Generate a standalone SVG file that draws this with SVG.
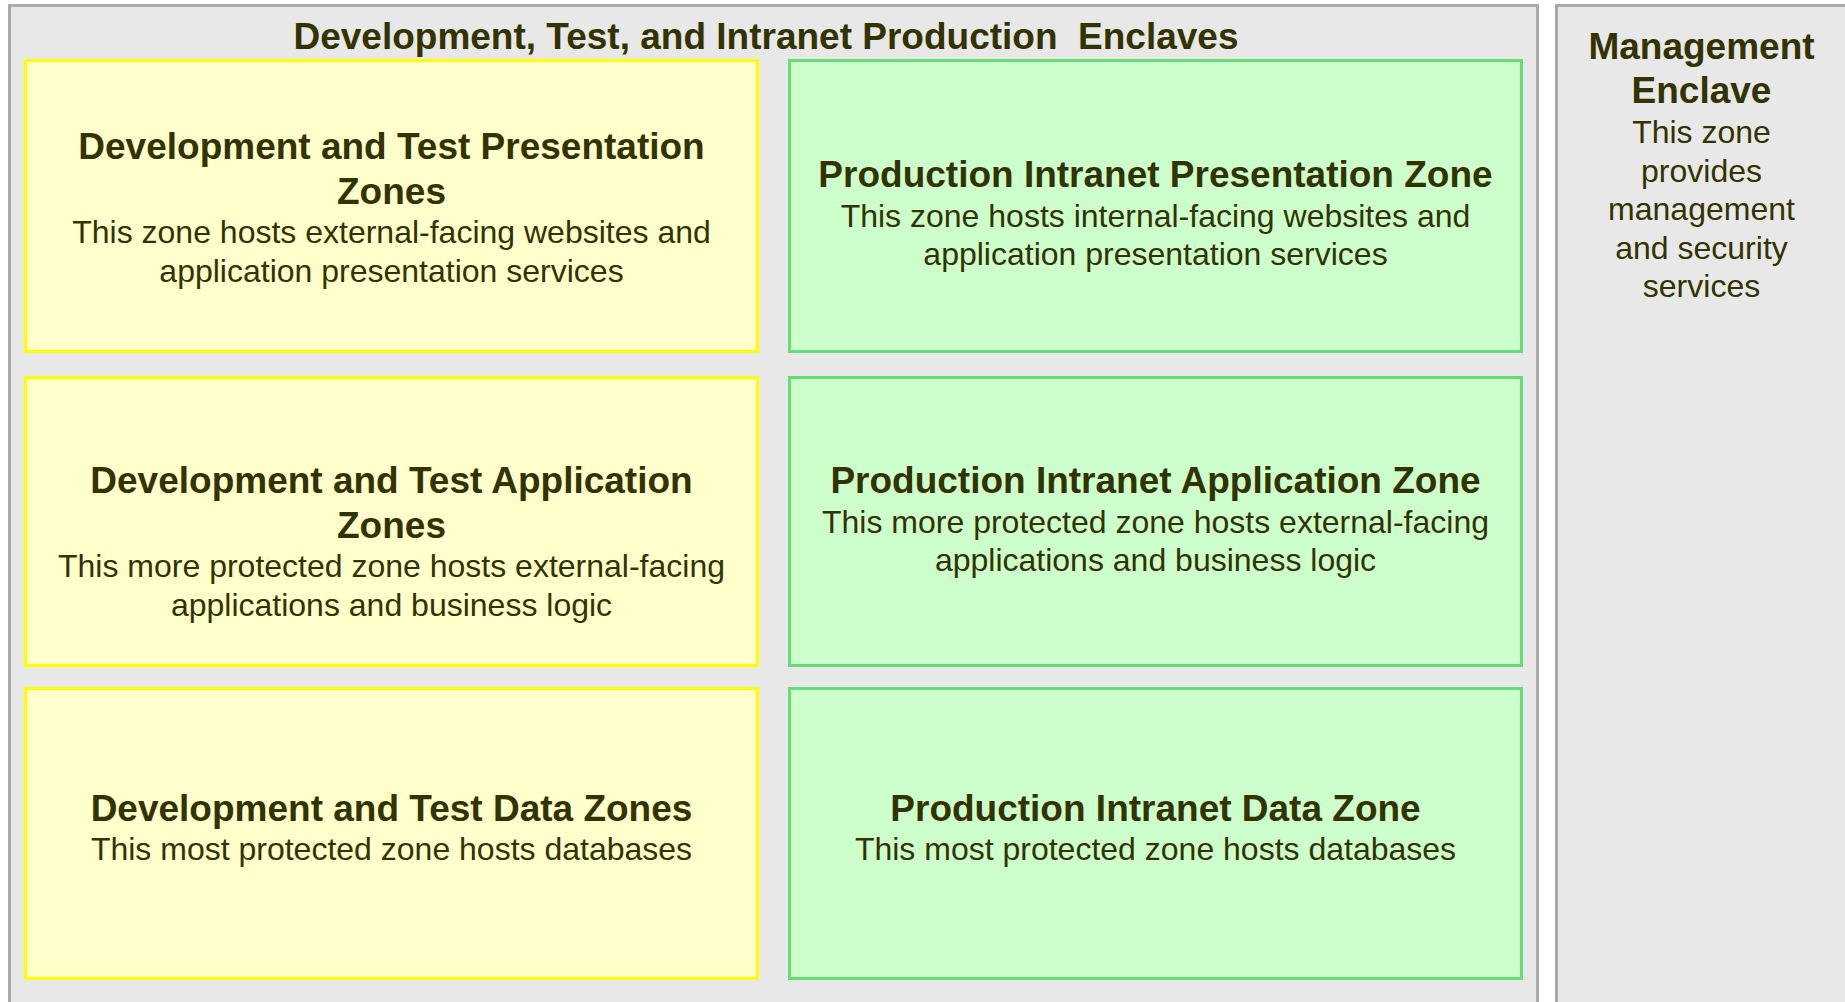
<svg xmlns="http://www.w3.org/2000/svg" width="1845" height="1002" viewBox="0 0 1845 1002">
  <style>
    .enclave { fill: #e8e8e8; stroke: #aaaaaa; stroke-width: 3; }
    .dev { fill: #ffffcc; stroke: #ffff00; stroke-width: 3; }
    .prod { fill: #ccffcc; stroke: #66dd77; stroke-width: 3; }
    text { font-family: "Liberation Sans", Arial, sans-serif; fill: #333300; text-anchor: middle; }
    .head { font-size: 37px; font-weight: bold; }
    .body { font-size: 32px; }
  </style>
  <rect width="1845" height="1002" fill="#ffffff"/>

  <!-- Development, Test and Intranet Production enclave -->
  <g id="dev-test-prod-enclave">
    <rect class="enclave" x="9.5" y="5.5" width="1528" height="1010"/>
    <text class="head" x="766" y="49" xml:space="preserve">Development, Test, and Intranet Production&#160; Enclaves</text>
  </g>

  <!-- Management enclave -->
  <g id="management-enclave">
    <rect class="enclave" x="1556.5" y="5.5" width="300" height="1010"/>
    <text class="head" x="1701.5" y="59">Management</text>
    <text class="head" x="1701.5" y="103">Enclave</text>
    <text class="body" x="1701.5" y="143">This zone</text>
    <text class="body" x="1701.5" y="181.5">provides</text>
    <text class="body" x="1701.5" y="220">management</text>
    <text class="body" x="1701.5" y="258.5">and security</text>
    <text class="body" x="1701.5" y="297">services</text>
  </g>

  <g id="dev-presentation">
    <rect class="dev" x="25.5" y="60.5" width="732" height="291"/>
    <text class="head" x="391.5" y="159">Development and Test Presentation</text>
    <text class="head" x="391.5" y="203.5">Zones</text>
    <text class="body" x="391.5" y="243">This zone hosts external-facing websites and</text>
    <text class="body" x="391.5" y="281.5">application presentation services</text>
  </g>

  <g id="prod-presentation">
    <rect class="prod" x="789.5" y="60.5" width="732" height="291"/>
    <text class="head" x="1155.5" y="187">Production Intranet Presentation Zone</text>
    <text class="body" x="1155.5" y="227">This zone hosts internal-facing websites and</text>
    <text class="body" x="1155.5" y="265">application presentation services</text>
  </g>

  <g id="dev-application">
    <rect class="dev" x="25.5" y="377.5" width="732" height="288"/>
    <text class="head" x="391.5" y="493">Development and Test Application</text>
    <text class="head" x="391.5" y="537.5">Zones</text>
    <text class="body" x="391.5" y="577">This more protected zone hosts external-facing</text>
    <text class="body" x="391.5" y="615.5">applications and business logic</text>
  </g>

  <g id="prod-application">
    <rect class="prod" x="789.5" y="377.5" width="732" height="288"/>
    <text class="head" x="1155.5" y="493">Production Intranet Application Zone</text>
    <text class="body" x="1155.5" y="533">This more protected zone hosts external-facing</text>
    <text class="body" x="1155.5" y="571">applications and business logic</text>
  </g>

  <g id="dev-data">
    <rect class="dev" x="25.5" y="688.5" width="732" height="290"/>
    <text class="head" x="391.5" y="821">Development and Test Data Zones</text>
    <text class="body" x="391.5" y="860">This most protected zone hosts databases</text>
  </g>

  <g id="prod-data">
    <rect class="prod" x="789.5" y="688.5" width="732" height="290"/>
    <text class="head" x="1155.5" y="821">Production Intranet Data Zone</text>
    <text class="body" x="1155.5" y="860">This most protected zone hosts databases</text>
  </g>

  <!-- no connectors in this layout -->
  <g id="connectors"/>
</svg>
